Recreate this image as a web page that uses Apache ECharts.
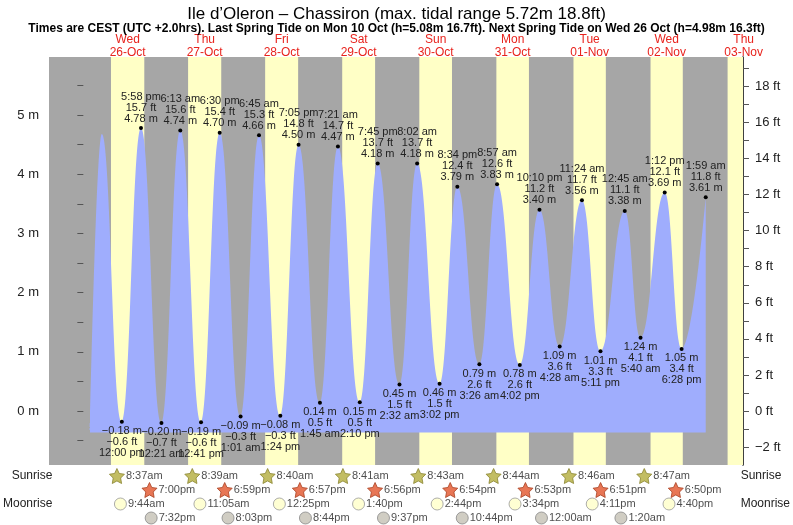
<!DOCTYPE html>
<html>
<head>
<meta charset="utf-8">
<title>Ile d'Oleron tides</title>
<script src="https://cdn.jsdelivr.net/npm/echarts@6/dist/echarts.min.js"></script>
</head>
<body style="margin:0">
<div id="chart" style="width:793px;height:525px;"></div>
<script>
// day 0 = Wed 26-Oct, hours counted from its midnight
const dayNames = ['Wed', 'Thu', 'Fri', 'Sat', 'Sun', 'Mon', 'Tue', 'Wed', 'Thu'];
const dayDates = ['26-Oct', '27-Oct', '28-Oct', '29-Oct', '30-Oct', '31-Oct', '01-Nov', '02-Nov', '03-Nov'];

// [day, time, metres]; first two points are unlabeled (start of curve, first high)
const tideStart = [[0, '2:05am', -0.36], [0, '5:45am', 4.68]];
const highs = [
  [0, '5:58pm', 4.78], [1, '6:13am', 4.74], [1, '6:30pm', 4.70], [2, '6:45am', 4.66],
  [2, '7:05pm', 4.50], [3, '7:21am', 4.47], [3, '7:45pm', 4.18], [4, '8:02am', 4.18],
  [4, '8:34pm', 3.79], [5, '8:57am', 3.83], [5, '10:10pm', 3.40], [6, '11:24am', 3.56],
  [7, '12:45am', 3.38], [7, '1:12pm', 3.69], [8, '1:59am', 3.61]
];
const lows = [
  [0, '12:00pm', -0.18], [1, '12:21am', -0.20], [1, '12:41pm', -0.19], [2, '1:01am', -0.09],
  [2, '1:24pm', -0.08], [3, '1:45am', 0.14], [3, '2:10pm', 0.15], [4, '2:32am', 0.45],
  [4, '3:02pm', 0.46], [5, '3:26am', 0.79], [5, '4:02pm', 0.78], [6, '4:28am', 1.09],
  [6, '5:11pm', 1.01], [7, '5:40am', 1.24], [7, '6:28pm', 1.05]
];

const sunrise = [[0, '8:37am'], [1, '8:39am'], [2, '8:40am'], [3, '8:41am'], [4, '8:43am'], [5, '8:44am'], [6, '8:46am'], [7, '8:47am']];
const sunset = [[0, '7:00pm'], [1, '6:59pm'], [2, '6:57pm'], [3, '6:56pm'], [4, '6:54pm'], [5, '6:53pm'], [6, '6:51pm'], [7, '6:50pm']];
const moonrise = [[0, '9:44am'], [1, '11:05am'], [2, '12:25pm'], [3, '1:40pm'], [4, '2:44pm'], [5, '3:34pm'], [6, '4:11pm'], [7, '4:40pm']];
const moonset = [[0, '7:32pm'], [1, '8:03pm'], [2, '8:44pm'], [3, '9:37pm'], [4, '10:44pm'], [6, '12:00am'], [7, '1:20am']];
// daylight of Thu 03-Nov (only its start is visible)
const lastDay = [[8, '8:48am'], [8, '6:48pm']];

const mTicks = [0, 1, 2, 3, 4, 5];
const ftTicks = [-2, 0, 2, 4, 6, 8, 10, 12, 14, 16, 18];

const FT = 0.3048;
function hrs(day, t) {
  const m = t.match(/(\d+):(\d+)\s*(am|pm)/);
  let h = +m[1] % 12;
  if (m[3] === 'pm') h += 12;
  return day * 24 + h + (+m[2]) / 60;
}
function fmtT(t) { return t.replace(/(am|pm)/, ' $1'); }
function neg(s) { return s.replace('-', '\u2212'); }

const xMin = -10.7, xMax = 205.6;
const yMin = -0.91, yMax = 5.98;

const extremes = [];
tideStart.forEach(p => extremes.push({ value: [hrs(p[0], p[1]), p[2]], symbolSize: 0 }));
highs.forEach(p => extremes.push({
  value: [hrs(p[0], p[1]), p[2]],
  label: { show: true, position: 'top', distance: 2,
    formatter: fmtT(p[1]) + '\n' + (p[2] / FT).toFixed(1) + ' ft\n' + p[2].toFixed(2) + ' m' }
}));
lows.forEach(p => extremes.push({
  value: [hrs(p[0], p[1]), p[2]],
  label: { show: true, position: 'bottom', distance: 2,
    formatter: neg(p[2].toFixed(2)) + ' m\n' + neg((p[2] / FT).toFixed(1)) + ' ft\n' + fmtT(p[1]) }
}));
extremes.sort((a, b) => a.value[0] - b.value[0]);

const bands = sunrise.map((r, i) => [{ xAxis: hrs(r[0], r[1]) }, { xAxis: hrs(sunset[i][0], sunset[i][1]) }]);
bands.push([{ xAxis: hrs(lastDay[0][0], lastDay[0][1]) }, { xAxis: hrs(lastDay[1][0], lastDay[1][1]) }]);

function rowData(arr, row) {
  return arr.map(p => ({ value: [hrs(p[0], p[1]), row], label: { formatter: p[1] } }));
}
const starPath = 'path://M0,-10 L2.9,-4 L9.5,-3.1 L4.7,1.5 L5.9,8.1 L0,5 L-5.9,8.1 L-4.7,1.5 L-9.5,-3.1 L-2.9,-4 Z';
const rowLabel = { show: true, position: 'right', distance: 1, color: '#222', fontSize: 11, fontFamily: 'Liberation Sans' };

const chart = echarts.init(document.getElementById('chart'));
chart.setOption({
  animation: false,
  textStyle: { fontFamily: 'Liberation Sans' },
  title: [
    { text: "Ile d\u2019Oleron \u2013 Chassiron (max. tidal range 5.72m 18.8ft)", left: 'center', top: 1,
      textStyle: { fontSize: 17, fontWeight: 'normal', color: '#000' } },
    { text: 'Times are CEST (UTC +2.0hrs). Last Spring Tide on Mon 10 Oct (h=5.08m 16.7ft). Next Spring Tide on Wed 26 Oct (h=4.98m 16.3ft)',
      left: 'center', top: 18, textStyle: { fontSize: 12, fontWeight: 'bold', color: '#000' } }
  ],
  grid: [
    { left: 49, right: 50, top: 57, bottom: 60, show: true, backgroundColor: '#a6a6a6', borderWidth: 0 },
    { left: 49, right: 50, top: 469, height: 56 }
  ],
  xAxis: [
    { type: 'value', gridIndex: 0, min: xMin, max: xMax, show: false },
    { type: 'value', gridIndex: 1, min: xMin, max: xMax, show: false }
  ],
  yAxis: [
    { type: 'value', gridIndex: 0, min: yMin, max: yMax, position: 'left',
      splitLine: { show: false }, axisLine: { show: false },
      axisTick: { show: true, length: 6, lineStyle: { color: '#555' }, customValues: [-0.5, 0, 0.5, 1, 1.5, 2, 2.5, 3, 3.5, 4, 4.5, 5, 5.5] },
      axisLabel: { customValues: mTicks, formatter: v => v + ' m', fontSize: 13, color: '#222', margin: 10 } },
    { type: 'value', gridIndex: 0, min: yMin / FT, max: yMax / FT, position: 'right',
      splitLine: { show: false }, axisLine: { show: true, lineStyle: { color: '#000', width: 1.5 } },
      axisTick: { show: true, length: 6, lineStyle: { color: '#555' },
        customValues: [-2, -1, 0, 1, 2, 3, 4, 5, 6, 7, 8, 9, 10, 11, 12, 13, 14, 15, 16, 17, 18, 19] },
      axisLabel: { customValues: ftTicks, formatter: v => neg(String(v)) + ' ft', fontSize: 13, color: '#222', margin: 12 } },
    { type: 'category', gridIndex: 1, inverse: true, data: ['Sunrise', 'Sunset', 'Moonrise', 'Moonset'],
      position: 'left', axisLine: { show: false }, axisTick: { show: false },
      axisLabel: { fontSize: 12, color: '#222', margin: 4 } },
    { type: 'category', gridIndex: 1, inverse: true, data: ['Sunrise', 'Sunset', 'Moonrise', 'Moonset'],
      position: 'right', axisLine: { show: false }, axisTick: { show: false },
      axisLabel: { fontSize: 12, color: '#222', margin: 6 } }
  ],
  series: [
    { type: 'line', xAxisIndex: 0, yAxisIndex: 0, data: [], z: 1, silent: true,
      markArea: { silent: true, itemStyle: { color: '#ffffc6' }, data: bands } },
    { type: 'line', xAxisIndex: 0, yAxisIndex: 0, z: 3, data: extremes,
      smooth: 0.45, smoothMonotone: 'x',
      lineStyle: { width: 0 }, areaStyle: { color: '#9fadfd', opacity: 1, origin: -0.36 },
      symbol: 'circle', symbolSize: 4, itemStyle: { color: '#000' },
      label: { color: '#222', fontSize: 11, lineHeight: 11 } },
    { type: 'scatter', xAxisIndex: 1, yAxisIndex: 2, data: rowData(sunrise, 0), symbol: starPath, symbolSize: 15,
      itemStyle: { color: '#b3ad3c', borderColor: '#8a8430', borderWidth: 1 }, label: rowLabel },
    { type: 'scatter', xAxisIndex: 1, yAxisIndex: 2, data: rowData(sunset, 1), symbol: starPath, symbolSize: 15,
      itemStyle: { color: '#e2542a', borderColor: '#a84020', borderWidth: 1 }, label: rowLabel },
    { type: 'scatter', xAxisIndex: 1, yAxisIndex: 2, data: rowData(moonrise, 2), symbol: 'circle', symbolSize: 12,
      itemStyle: { color: '#ffffc8', borderColor: '#999', borderWidth: 1 }, label: rowLabel },
    { type: 'scatter', xAxisIndex: 1, yAxisIndex: 2, data: rowData(moonset, 3), symbol: 'circle', symbolSize: 12,
      itemStyle: { color: '#c4c0b4', borderColor: '#888', borderWidth: 1 }, label: rowLabel }
  ]
});

// day headings centred on each daylight band
const heads = dayNames.map((d, i) => {
  const b = bands[i];
  const x = chart.convertToPixel({ xAxisIndex: 0 }, (b[0].xAxis + b[1].xAxis) / 2);
  return { type: 'text', x: x, y: 33, style: { text: d + '\n' + dayDates[i], fill: '#e8231d',
    font: '12px Liberation Sans', textAlign: 'center', lineHeight: 13 } };
});
chart.setOption({ graphic: heads });
</script>
</body>
</html>
